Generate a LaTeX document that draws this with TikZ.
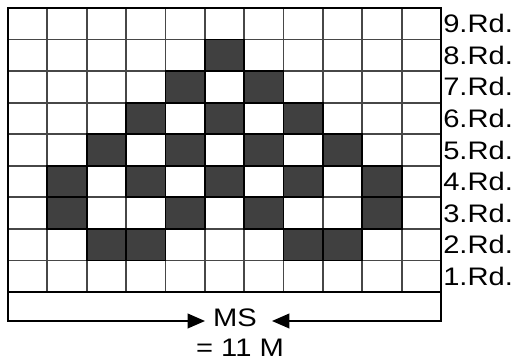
\documentclass[tikz,border=0pt]{standalone}
\usepackage{fontspec}
\setmainfont[FakeStretch=1.15]{Liberation Sans}
\usetikzlibrary{positioning,calc,arrows.meta}

\begin{document}
\begin{tikzpicture}[x=0.75pt, y=-0.75pt, >={Triangle[length=13pt,width=11pt]}]
    \tikzstyle{grid line} = [black!72, line width=1.3pt]
    \tikzstyle{dark cell} = [fill=black!75, draw=black, line width=1.3pt]
    \tikzstyle{row label} = [anchor=west, inner sep=0pt, font=\fontsize{19}{22}\selectfont]
    \tikzstyle{bracket} = [black, line width=1.2pt]
    \useasboundingbox (0,0) rectangle (515,363);
    % the 11 x 9 grid
    \foreach \i in {0,...,11}
        \draw[grid line] ({8+\i*39.3636},8) -- ({8+\i*39.3636},292);
    \foreach \j in {0,...,9}
        \draw[grid line] (8,{8+\j*31.5556}) -- (441,{8+\j*31.5556});
    \foreach \c/\r in {6/8, 5/7, 7/7, 4/6, 6/6, 8/6, 3/5, 5/5, 7/5, 9/5,
                       2/4, 4/4, 6/4, 8/4, 10/4, 2/3, 5/3, 7/3, 10/3, 3/2, 4/2, 8/2, 9/2}
        \draw[dark cell] ({8+(\c-1)*39.3636},{8+(9-\r)*31.5556}) rectangle ++(39.3636,31.5556);
    \draw[black, line width=1.6pt] (8,8) rectangle (441,292);
    \coordinate (sw) at (8,292);
    \coordinate (se) at (441,292);
    % rows
    \foreach \r in {1,...,9}
        \node[row label] (rd\r) at (443,{8+(9.5-\r)*31.5556}) {\r.Rd.};
    % width of the piece
    \node[inner sep=0pt, font=\fontsize{19}{22}\selectfont] (ms) at (235,317.5) {MS};
    \node[inner sep=0pt, font=\fontsize{19}{22}\selectfont] (total) at (240,348) {= 11 M};
    \coordinate (ltip) at (205,321);
    \coordinate (rtip) at (272,321);
    \draw[bracket, ->] (sw) |- (ltip);
    \draw[bracket, ->] (se) |- (rtip);
\end{tikzpicture}
\end{document}
